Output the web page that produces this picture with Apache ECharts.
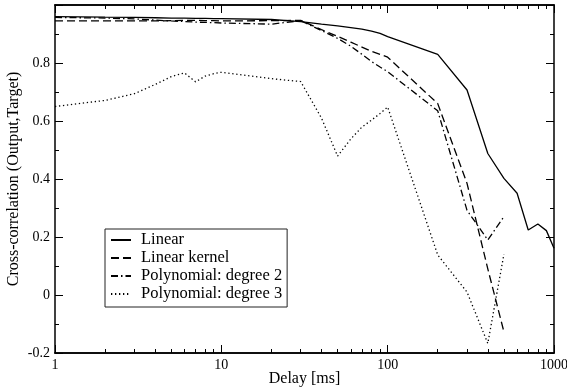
<!DOCTYPE html>
<html>
<head>
<meta charset="utf-8">
<script src="https://cdn.jsdelivr.net/npm/echarts@6/dist/echarts.min.js"></script>
<style>
html,body{margin:0;padding:0;background:#fff}
#chart{width:567px;height:390px}
</style>
</head>
<body>
<div id="chart"></div>
<script>
// delay values in ms (x)
const delays = [1,2,3,4,5,6,7,8,9,10,20,30,40,50,60,70,80,90,100,200,300,400,500,600,700,800,900,1000];

const linear = [0.960,0.958,0.957,0.956,0.955,0.955,0.954,0.954,0.953,0.953,0.950,0.943,0.934,0.928,0.922,0.917,0.910,0.902,0.891,0.830,0.707,0.488,0.402,0.351,0.224,0.245,0.222,0.161];
const linearKernel = [0.945,0.945,0.945,0.945,0.946,0.947,0.947,0.946,0.946,0.945,0.946,0.947,0.915,0.892,0.872,0.855,0.840,0.830,0.820,0.660,0.385,0.090,-0.127];
const poly2 = [0.957,0.955,0.952,0.948,0.945,0.943,0.941,0.940,0.939,0.938,0.934,0.946,0.912,0.885,0.858,0.830,0.805,0.786,0.770,0.635,0.292,0.190,0.270];
const poly3 = [0.650,0.671,0.694,0.726,0.753,0.766,0.735,0.755,0.763,0.768,0.746,0.736,0.610,0.479,0.538,0.579,0.603,0.626,0.648,0.138,0.010,-0.167,0.141];

const names = ['Linear', 'Linear kernel', 'Polynomial: degree 2', 'Polynomial: degree 3'];
const xMajor = [1, 10, 100, 1000];
const xMinor = [2,3,4,5,6,7,8,9,20,30,40,50,60,70,80,90,200,300,400,500,600,700,800,900];

const serif = 'Liberation Serif';
const black = '#000';

const pairs = ys => ys.map((y, i) => [delays[i], y]);

const xBase = (pos, major) => ({
  type: 'log',
  logBase: 10,
  min: 1,
  max: 1000,
  position: pos,
  axisLine: {show: true, onZero: false, lineStyle: {color: black, width: 1.5}},
  axisTick: {
    show: true, inside: true, length: major ? 8 : 4,
    customValues: major ? xMajor : xMinor,
    lineStyle: {color: black, width: 1}
  },
  axisLabel: {
    show: major && pos === 'bottom',
    customValues: xMajor,
    margin: 5,
    fontFamily: serif, fontSize: 14, color: black,
    formatter: v => String(v)
  },
  splitLine: {show: false}
});

const yBase = (pos) => ({
  type: 'value',
  min: -0.2,
  max: 1,
  interval: 0.2,
  position: pos,
  axisLine: {show: true, onZero: false, lineStyle: {color: black, width: 1.5}},
  axisTick: {show: true, inside: true, length: 8, lineStyle: {color: black, width: 1}},
  minorTick: {show: true, splitNumber: 2, length: 4, lineStyle: {color: black, width: 1}},
  axisLabel: {
    show: pos === 'left',
    showMaxLabel: false,
    margin: 5,
    fontFamily: serif, fontSize: 14, color: black
  },
  splitLine: {show: false}
});

const xAxes = [xBase('bottom', true), xBase('top', true), xBase('bottom', false), xBase('top', false)];
xAxes[0].name = 'Delay [ms]';
xAxes[0].nameLocation = 'middle';
xAxes[0].nameGap = 18;
xAxes[0].nameMoveOverlap = false;
xAxes[0].nameTextStyle = {fontFamily: serif, fontSize: 16, color: black};

const yAxes = [yBase('left'), yBase('right')];
yAxes[0].name = 'Cross-correlation (Output,Target)';
yAxes[0].nameLocation = 'middle';
yAxes[0].nameGap = 33;
yAxes[0].nameMoveOverlap = false;
yAxes[0].nameTextStyle = {fontFamily: serif, fontSize: 16, color: black};

const chart = echarts.init(document.getElementById('chart'));
chart.setOption({
  animation: false,
  backgroundColor: '#fff',
  grid: {left: 55, right: 13, top: 5, bottom: 37, outerBoundsMode: 'none'},
  legend: {
    orient: 'vertical',
    left: 105,
    top: 229,
    itemWidth: 20,
    itemHeight: 14,
    itemGap: 0,
    padding: [2, 5, 4, 5],
    borderColor: '#222',
    borderWidth: 1,
    backgroundColor: '#fff',
    itemStyle: {opacity: 0},
    textStyle: {fontFamily: serif, fontSize: 16.5, color: black, lineHeight: 18, padding: [0, 0, 0, 5]},
    data: names
  },
  xAxis: xAxes,
  yAxis: yAxes,
  series: [
    {name: names[0], data: pairs(linear), lineStyle: {type: 'solid'}},
    {name: names[1], data: pairs(linearKernel), lineStyle: {type: [8, 4]}},
    {name: names[2], data: pairs(poly2), lineStyle: {type: [7, 3, 1.5, 3]}},
    {name: names[3], data: pairs(poly3), lineStyle: {type: [1.3, 2.7]}}
  ].map(s => ({
    ...s,
    type: 'line',
    symbol: 'none',
    xAxisIndex: 0,
    yAxisIndex: 0,
    lineStyle: {...s.lineStyle, color: black, width: 1.3},
    itemStyle: {color: black}
  }))
});
</script>
</body>
</html>
